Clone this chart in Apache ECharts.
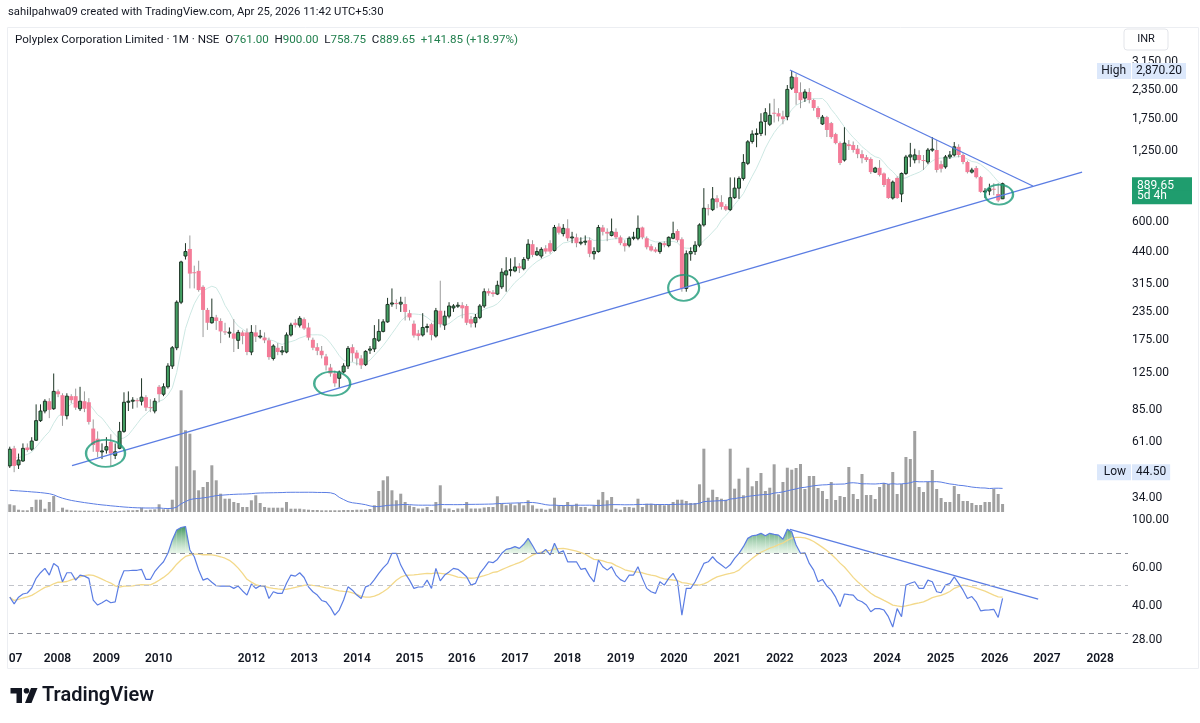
<!DOCTYPE html>
<html><head><meta charset="utf-8">
<script src="https://cdn.jsdelivr.net/npm/echarts@6/dist/echarts.min.js"></script>
<style>html,body{margin:0;padding:0;background:#fff}#chart{width:1200px;height:723px}</style>
</head><body><div id="chart"></div>
<script>
// ---- Monthly bars, Polyplex Corporation Limited (NSE), index 0 = first visible bar (2007) ----
const opens = [47.5,57,48,50,57.5,56.5,62,76,84,93, 86,103,99,80,98,98,86,93,92,70, 63,55,56,61,53,57,68,92,93,94,
 93,97,87.5,84,108,100,108,134,162,260, 420,452,355,360,305,240,210,222,214,192, 190,188,175,190,190,155,190,182,180,175,
 145,162,155,155,185,210,205,218,200,176, 163,157,148,132,124,118,126,134,163,154, 145,136,158,160,175,192,212,255,258,255,
 255,232,208,188,185,200,207,183,238,205, 225,245,250,252,250,218,210,222,250,292, 288,283,305,345,362,360,378,368,410,475,
 425,420,455,480,445,570,530,560,510,510, 482,485,495,430,440,565,540,520,540,510, 480,470,505,505,565,505,465,450,440,480,
 468,505,545,500,300,430,440,470,580,690, 680,765,735,705,680,770,850,940,1100,1380, 1490,1500,1700,1650,1860,1850,1790,1785,2400,2690,
 2300,2165,2307,2123,1953,1655,1777,1670,1490,1357, 1138,1340,1330,1280,1210,1172,1150,1004,1050,990, 935,767,945,800,990,1175,1140,1199,1138,1115,
 1263,1263,1090,1060,1175,1199,1305,1199,1115,1004, 1047,953,818,825,845,800,761];
const highs = [58,58.5,54,60,60,64,90,90,95,96, 124,105,101,101,100,106,108,103,96,77, 68,60,64,66,60,75,102,103,97,96,
 118,99,95,96,110,112,138,165,265,400, 480,520,380,400,310,245,270,228,220,210, 200,218,195,194,198,205,205,195,190,180,
 168,170,165,190,210,218,225,222,210,180, 170,165,152,137,128,128,138,165,168,158, 150,158,165,205,218,218,272,300,268,275,
 275,240,215,195,232,208,210,245,325,238, 260,255,260,260,255,225,230,255,300,300, 295,325,370,415,410,415,390,415,500,495,
 460,460,470,495,580,590,585,615,540,530, 510,520,510,460,580,580,560,620,560,520, 495,515,540,640,570,515,475,460,485,490,
 515,600,555,510,445,460,490,590,850,720, 860,790,790,720,950,950,960,1210,1400,1550, 1580,1850,1950,2050,2150,1950,1900,2480,2870.2,2790,
 2550,2375,2400,2150,1990,1817,1800,1690,1510,1380, 1600,1400,1380,1330,1260,1200,1170,1060,1138,1000, 950,920,960,1000,1200,1360,1280,1260,1199,1290,
 1445,1400,1130,1199,1250,1372,1340,1220,1130,1050, 1070,965,850,890,895,895,900];
const lows = [46.5,44.5,46,49.5,55,55.5,61.5,75,82,78, 85,97,72,77,91,85,84,83,73,55, 52,51,54,47.5,51,56.5,67,84,86,87,
 89,84,83,82,92,98,106,130,158,255, 405,300,300,290,181,195,208,195,170,185, 180,155,160,168,150,150,172,178,170,143,
 142,150,150,153,182,200,200,195,175,158, 150,145,128,120,108,107,124,130,140,135, 130,134,152,155,172,190,210,248,242,235,
 215,215,180,175,182,190,175,180,200,195, 220,235,245,220,205,200,200,218,245,278, 275,280,298,290,340,355,352,362,400,415,
 420,410,430,430,440,525,515,490,480,460, 470,470,415,405,435,520,490,515,500,470, 440,460,495,495,500,450,440,435,430,460,
 460,500,485,290,290,400,425,460,570,640, 670,690,680,670,670,760,760,920,1080,1350, 1300,1460,1470,1620,1680,1700,1650,1720,2355,2020,
 1950,2080,2050,1900,1740,1637,1445,1420,1340,1080, 1120,1263,1230,1160,1100,1115,985,995,960,860, 760,755,760,735,975,1060,1100,1100,1026,1090,
 1240,1000,1000,1040,1150,1180,1170,1090,990,990, 940,810,767,790,790,735,758.75];
const closes = [56.5,47.5,50.5,57,56,61.5,76,84,93,85, 103,100,80,98,94,87,93,86,75,59, 55,55.5,58,54,55,68,92,93,94,93,
 97,87,87,93,100,108,134,162,260,395, 440,350,352,295,240,210,222,214,192,190, 190.5,178,190,183,155,190,182,183,175,147,
 165,155,157,185,205,205,220,198,180,162, 157,150,135,124,112,126,134,161,153,145, 135,156,160,178,192,212,254,258,255,260,
 235,222,184,183,200,202,185,238,207,225, 250,250,252,244,210,208,222,250,290,285, 283,310,355,360,365,375,370,405,475,425,
 440,450,440,440,565,535,560,505,512,480, 485,490,430,440,565,540,530,540,510,480, 465,505,510,560,510,460,445,440,480,470,
 510,530,495,300,430,440,470,580,690,685, 760,735,700,680,770,850,940,1110,1375,1490, 1500,1690,1860,1810,1840,1790,1740,2370,2696,2283,
 2120,2307,2123,1953,1777,1777,1555,1445,1357,1104, 1357,1315,1263,1210,1160,1138,1004,1047,974,878, 767,905,767,990,1175,1200,1200,1138,1135,1263,
 1275,1026,1040,1175,1199,1305,1199,1115,1004,1026, 953,818,825,845,838,747.8,889.65];
// volume (relative units)
const volumes = [7.7,6.7,2.3,1.7,1.7,5,12.3,12.3,3.3,10, 16,0.7,4.3,2.3,1.7,1.5,1.3,1.3,1.3,1.3, 1.3,1.3,1,1.3,1.3,1.3,1.3,1.7,1.7,2,
 4.3,1.7,2.3,2.7,7.7,2.7,2.7,12.3,45.7,121.7, 81.7,78.3,41.7,21.7,25,30,46.7,31.7,18.3,13.3, 13.3,10,9,5,5,11.7,16.7,9,5,4.3,
 4.3,4.3,4.3,10,3.3,3.3,3.3,2.7,2.3,2, 2,1.7,1.7,1.7,1.7,1.7,2,2,2,2.3, 2.3,2.3,3,6.7,21,31.7,35.7,21.7,11.7,18.3,
 10,6.5,5,3.5,3.5,5,2,10,26.7,3.5, 3.5,2,3.5,3.5,10,3.5,3.5,3.5,4.5,5, 5,15.7,8.3,6.7,8.3,6.7,9,6.7,11.7,6.7,
 3.3,3.3,2.3,3.3,14.3,6.7,6.7,10,6.7,8.3, 5,5,3.3,6.7,12.3,20,11.7,15,3.3,2.3, 5,5,4.3,13.3,5,8.3,8.3,7.7,7.7,6.7,
 7.7,10,12.3,12.3,11,9,9,27.7,63.3,14.3, 22.3,15,13.3,12.3,63.3,23.3,33.3,16.7,44.3,25.7, 31,39,21,24.3,47.7,17.7,30,44.3,42.3,44,
 48,23,36,36,24,21,13,30,12,16, 15,45,18,13,38,17,17,13,25,29, 28,40,18,28,55,53,81,25,20,30,
 42,23,14,10,10,26,18,11,11,9, 7,7,10,10,23,18,8];
// volume moving-average values read for the first bars (window reaches before the visible data)
const volMaHead = [21.7,21.4,21.1,20.8,20.5,20.1,19.8,19.4,18.9,18.3,17.2,15.3,13.8,12.6,11.6,10.8,10.1,9.4,8.8,8.2,
 7.6,7.1,6.7,6.2,5.8,5.4,5.0,4.7,4.4,4.2,4.1,4.0,4.0,4.0,4.1];
// RSI(14)
const rsi = [44,41,44,45.5,46,48.5,53.7,57,59.7,55.6, 62.9,60.7,51.8,57,57,52.7,55.6,55,53.7,42.7, 40.5,41.5,42.7,41.5,41.9,52,58.2,58.2,58.5,58.5,
 59.1,53.1,53.1,57.6,61,64,70,80.6,89.6,92, 93,72.5,67.5,58.7,52.7,53.7,51.5,49.7,49.5,49.5, 49.5,48.3,49.5,47,45,50.6,48.3,49.7,49.5,43.4,
 46.6,45.8,45.8,51,55.6,55,57,54.2,49.1,46.6, 45,42.5,41.9,39.5,36.4,38.4,42.7,49.1,47.4,45, 43.4,49.1,50,53,56.6,60,62.9,70,70,61.8,
 56.6,52.7,48.3,49,49.1,52.7,48.3,59.7,52.3,55.6, 57.5,59.7,59.1,57,54.6,50,50.9,56.6,60,64, 63.4,65.6,70,73,73.8,75.1,73.8,77,82,76,
 70,70,73,68.8,77.8,70.4,71.9,64,64,64, 59.1,59.7,55,51.8,65.2,60.7,58.6,60.7,55.6,53, 51.8,55.6,55.6,60.7,53.7,48.3,46.6,45.8,51.8,50,
 53.7,56.6,51.8,36.4,48.3,48.3,51.8,57,62.9,64, 67.5,64,61.8,59.7,62,66.3,70,75.1,82,84.3, 84.9,86.5,84.3,86.5,85.5,84.9,81.2,90.2,88,76.4,
 70,70.4,62.9,58.6,51.8,53.1,49.5,47.4,44,39.8, 45.5,45.2,45,42.7,41.9,40.5,37.7,39,39,38.4, 35.8,32.1,39,35.8,50,51,51.8,48.3,48.3,52.7,
 51.8,46.6,46.1,50,50.9,54.6,50.9,47.4,43.4,44.3, 41.9,38.1,38.4,38.5,38.7,35.5,43.4];
// time-axis year labels (position in bar units, label)
const yearTickPos  = [-0.24,10.85,22.0,33.9,55.0,67.0,79.05,91.0,102.9,115.0,126.96,139.1,151.2,163.3,175.3,187.6,199.7,211.9,224.2,236.1,248.2];
const yearTickText = ['2007','2008','2009','2010','2012','2013','2014','2015','2016','2017','2018','2019','2020','2021','2022','2023','2024','2025','2026','2027','2028'];
// price / RSI scale labels
const priceTicks = [3150,2350,1750,1250,600,440,315,235,175,125,85,61,34];
const rsiTicks = [100,60,40,28];
const rsiLevels = [70,50,30];
const highVal = 2870.2, lowVal = 44.5, lastVal = 889.65;
// drawn trendlines [barIndex, value]
const lowerTrend = [[14.17,47.6],[244.1,1004]];
const upperTrend = [[177.6,2899],[232.9,869]];
const rsiTrend = [[177.6,90.2],[234.1,43.1]];
// hand-drawn circles [barIndex, price, w, h]
const circles = [[21.8,54.1,39,27],[73.4,111.7,36,24],[153.4,302,31,26],[225.2,795,28,20]];

// ---- derived ----
function sma(arr, n){ return arr.map((_,i)=>{const s=Math.max(0,i-n+1);let t=0;for(let k=s;k<=i;k++)t+=arr[k];return t/(i-s+1);}); }
const priceMA = sma(closes, 9);
const rsiMA = sma(rsi, 14);
const volMA = volumes.map((_,i)=>{ if(i<volMaHead.length) return volMaHead[i]; let t=0; for(let k=i-35;k<=i;k++) t+=volumes[k]; return t/36; });
const idx = a => a.map((v,i)=>[i,v]);

const XMIN = -2.222, XMAX = 254.55;
const PMIN = 29.13, PMAX = 3568;
const RMIN = 25.7, RMAX = 103.9;
const GL = 0, GR = 72;

const UP_FILL='#44a063', UP_EDGE='#1e3526', DN_FILL='#f47c98', DN_WICK='#9b9b9b';
function renderCandle(params, api){
  const i=api.value(0), o=api.value(1), c=api.value(2), l=api.value(3), h=api.value(4);
  const up = c>=o;
  const pO=api.coord([i,o]), pC=api.coord([i,c]), pL=api.coord([i,l]), pH=api.coord([i,h]);
  const px=pO[0];
  const top=Math.min(pO[1],pC[1]), bh=Math.max(1,Math.abs(pO[1]-pC[1]));
  const kids=[{type:'line',shape:{x1:px,y1:pH[1],x2:px,y2:pL[1]},style:{stroke:up?UP_EDGE:DN_WICK,lineWidth:1}}];
  if(up) kids.push({type:'rect',shape:{x:px-1.5,y:top,width:3,height:bh},style:{fill:UP_FILL,stroke:UP_EDGE,lineWidth:1}});
  else kids.push({type:'rect',shape:{x:px-2,y:top,width:4,height:bh},style:{fill:DN_FILL}});
  return {type:'group',children:kids};
}
// overbought (>70) fill between RSI and the 70 level
const OB = 70;
function renderOB(params, api){
  const i=api.value(0), a=api.value(1), b=api.value(2);
  if(a<=OB && b<=OB) return null;
  const pa=api.coord([i,a]), pb=api.coord([i+1,b]);
  const y70=api.coord([i,OB])[1], yTop=api.coord([i,95])[1];
  let pts;
  if(a>OB && b>OB) pts=[[pa[0],pa[1]],[pb[0],pb[1]],[pb[0],y70],[pa[0],y70]];
  else { const t=(y70-pa[1])/(pb[1]-pa[1]); const xc=pa[0]+t*(pb[0]-pa[0]);
    pts = a>OB ? [[pa[0],pa[1]],[xc,y70],[pa[0],y70]] : [[xc,y70],[pb[0],pb[1]],[pb[0],y70]]; }
  return {type:'polygon',shape:{points:pts},
    style:{fill:new echarts.graphic.LinearGradient(0,yTop,0,y70,[{offset:0,color:'#2f8c4f'},{offset:1,color:'rgba(214,238,216,0.55)'}],true),stroke:null}};
}
const fmt = v => Number(v).toLocaleString('en-US',{minimumFractionDigits:2,maximumFractionDigits:2});
const near = (a,b) => Math.abs(a-b) < 1e-6*Math.max(1,Math.abs(b));

const BLUE='#5b7de3';
const FONT='Roboto, "Noto Sans", sans-serif';
const chart = echarts.init(document.getElementById('chart'), null, {renderer:'canvas'});
chart.setOption({
  animation:false,
  textStyle:{fontFamily:FONT},
  title:[
    {text:'sahilpahwa09 created with TradingView.com, Apr 25, 2026 11:42 UTC+5:30', left:8, top:7, padding:0,
     textStyle:{fontSize:11.3, fontWeight:'normal', color:'#131722', fontFamily:FONT}},
    {text:'{n|Polyplex Corporation Limited · 1M · NSE}  {k|O}{v|761.00}  {k|H}{v|900.00}  {k|L}{v|758.75}  {k|C}{v|889.65}  {v|+141.85 (+18.97%)}',
     left:15, top:34, padding:0, textStyle:{fontSize:11.6, fontWeight:'normal', fontFamily:FONT,
       rich:{n:{fontSize:11.6,fontWeight:'normal',color:'#131722'},k:{fontSize:11.6,fontWeight:'normal',color:'#131722'},v:{fontSize:11.6,fontWeight:'normal',color:'#23804f'}}}}
  ],
  grid:[
    {left:GL, right:GR, top:50, height:463, outerBoundsMode:'none', containLabel:false},
    {left:GL, right:GR, top:390, height:122, outerBoundsMode:'none', containLabel:false},
    {left:GL, right:GR, top:516, height:132, outerBoundsMode:'none', containLabel:false}
  ],
  xAxis:[
    {type:'value', gridIndex:0, min:XMIN, max:XMAX, show:false},
    {type:'value', gridIndex:1, min:XMIN, max:XMAX, show:false},
    {type:'value', gridIndex:2, min:XMIN, max:XMAX, axisLine:{show:false}, axisTick:{show:false}, splitLine:{show:false},
     axisLabel:{customValues:yearTickPos, margin:5, fontSize:12, fontWeight:600, color:'#131722', hideOverlap:false,
       formatter:v=>{const k=yearTickPos.findIndex(p=>Math.abs(p-v)<1e-6); return k>=0?yearTickText[k]:'';}}}
  ],
  yAxis:[
    {type:'log', gridIndex:0, min:PMIN, max:PMAX, position:'right', axisLine:{show:false}, axisTick:{show:false}, splitLine:{show:false},
     axisLabel:{customValues:priceTicks.concat([highVal,lowVal,lastVal]), margin:4, fontSize:12, color:'#131722',
       formatter:v=>{ if(near(v,lastVal)) return '{e| }\n{c|'+fmt(v)+'}\n{d|5d 4h}';
                      if(near(v,highVal)||near(v,lowVal)) return '{hl|'+fmt(v)+'}';
                      return fmt(v); },
       rich:{e:{lineHeight:14,fontSize:12},
             c:{color:'#fff',backgroundColor:'#1f9d6e',width:50,lineHeight:13,padding:[3,5,0,5],fontSize:12},
             d:{color:'#fff',backgroundColor:'#1f9d6e',width:50,lineHeight:12,padding:[0,5,2,5],fontSize:12},
             hl:{backgroundColor:'#dce8fb',padding:[2,4,2,4],color:'#131722',fontSize:12}}}},
    {type:'log', gridIndex:0, min:PMIN, max:PMAX, position:'right', offset:-35, axisLine:{show:false}, axisTick:{show:false}, splitLine:{show:false},
     axisLabel:{customValues:[highVal,lowVal], margin:4, fontSize:12,
       formatter:v=> near(v,highVal)?'{t|High}':'{t|Low}',
       rich:{t:{backgroundColor:'#dce8fb',padding:[2,5,2,5],color:'#131722',fontSize:12,width:24,align:'right'}}}},
    {type:'value', gridIndex:1, min:0, max:122, show:false},
    {type:'log', gridIndex:2, min:RMIN, max:RMAX, position:'right', axisLine:{show:false}, axisTick:{show:false}, splitLine:{show:false},
     axisLabel:{customValues:rsiTicks, margin:4, fontSize:12, color:'#131722', formatter:v=>fmt(v)}}
  ],
  series:[
    {name:'Volume', type:'bar', xAxisIndex:1, yAxisIndex:2, data:idx(volumes), barWidth:3, itemStyle:{color:'#a0a0a0'}, silent:true},
    {name:'Volume MA', type:'line', xAxisIndex:1, yAxisIndex:2, data:idx(volMA), symbol:'none', lineStyle:{color:BLUE,width:1}, silent:true},
    {name:'Price MA', type:'line', xAxisIndex:0, yAxisIndex:0, data:idx(priceMA), symbol:'none', lineStyle:{color:'#cde8e3',width:1}, silent:true, z:2},
    {name:'Price', type:'custom', xAxisIndex:0, yAxisIndex:0, renderItem:renderCandle,
     data:closes.map((c,i)=>[i,opens[i],c,lows[i],highs[i]]), encode:{x:0,y:[1,2,3,4]}, z:3},
    {name:'Lower trend', type:'line', xAxisIndex:0, yAxisIndex:0, data:lowerTrend, symbol:'none', lineStyle:{color:BLUE,width:1.3}, z:4},
    {name:'Upper trend', type:'line', xAxisIndex:0, yAxisIndex:0, data:upperTrend, symbol:'none', lineStyle:{color:BLUE,width:1.3}, z:4},
    {name:'Circles', type:'scatter', xAxisIndex:0, yAxisIndex:0, data:circles.map(c=>[c[0],c[1]]),
     symbol:'circle', symbolSize:(v,p)=>[circles[p.dataIndex][2],circles[p.dataIndex][3]],
     itemStyle:{color:'rgba(0,0,0,0)',borderColor:'#1c9a78',borderWidth:2}, z:5},
    {name:'Overbought fill', type:'custom', xAxisIndex:2, yAxisIndex:3, renderItem:renderOB,
     data:rsi.slice(0,-1).map((v,i)=>[i,v,rsi[i+1]]), encode:{x:0,y:[1,2]}, silent:true, z:1},
    {name:'RSI MA', type:'line', xAxisIndex:2, yAxisIndex:3, data:idx(rsiMA), symbol:'none', lineStyle:{color:'#f3d98a',width:1.3}, z:2},
    {name:'RSI', type:'line', xAxisIndex:2, yAxisIndex:3, data:idx(rsi), symbol:'none', lineStyle:{color:BLUE,width:1.2}, z:3,
     markLine:{silent:true, symbol:'none', label:{show:false},
       data:rsiLevels.map(l=>({yAxis:l,lineStyle:{color:l===50?'#c2c4ca':'#8a8d96',type:[5,4],width:1}}))}},
    {name:'RSI trend', type:'line', xAxisIndex:2, yAxisIndex:3, data:rsiTrend, symbol:'none', lineStyle:{color:BLUE,width:1.3}, z:4}
  ],
  graphic:[
    {type:'rect', z:100, shape:{x:0,y:28,width:7.5,height:645}, style:{fill:'#fff'}},
    {type:'rect', z:101, shape:{x:7.5,y:27.5,width:1191,height:641}, style:{fill:'none',stroke:'#eceef2',lineWidth:1}},
    {type:'rect', z:101, shape:{x:1124,y:29,width:44,height:21,r:3}, style:{fill:'#fff',stroke:'#e3e5ea',lineWidth:1}},
    {type:'text', z:102, x:1146, y:39.5, style:{text:'INR',fill:'#131722',font:'11px Roboto, sans-serif',align:'center',verticalAlign:'middle'}},
    {type:'group', z:102, children:[
      {type:'rect', shape:{x:10.5,y:688,width:11.5,height:5.5}, style:{fill:'#131722'}},
      {type:'rect', shape:{x:16.5,y:688,width:5.5,height:15}, style:{fill:'#131722'}},
      {type:'circle', shape:{cx:26.5,cy:690.8,r:2.8}, style:{fill:'#131722'}},
      {type:'polygon', shape:{points:[[31,688],[37.5,688],[31.5,703],[25,703]]}, style:{fill:'#131722'}},
      {type:'text', x:42, y:696, style:{text:'TradingView',fill:'#131722',font:'600 20px Roboto, sans-serif',verticalAlign:'middle'}}
    ]}
  ]
});
</script></body></html>
